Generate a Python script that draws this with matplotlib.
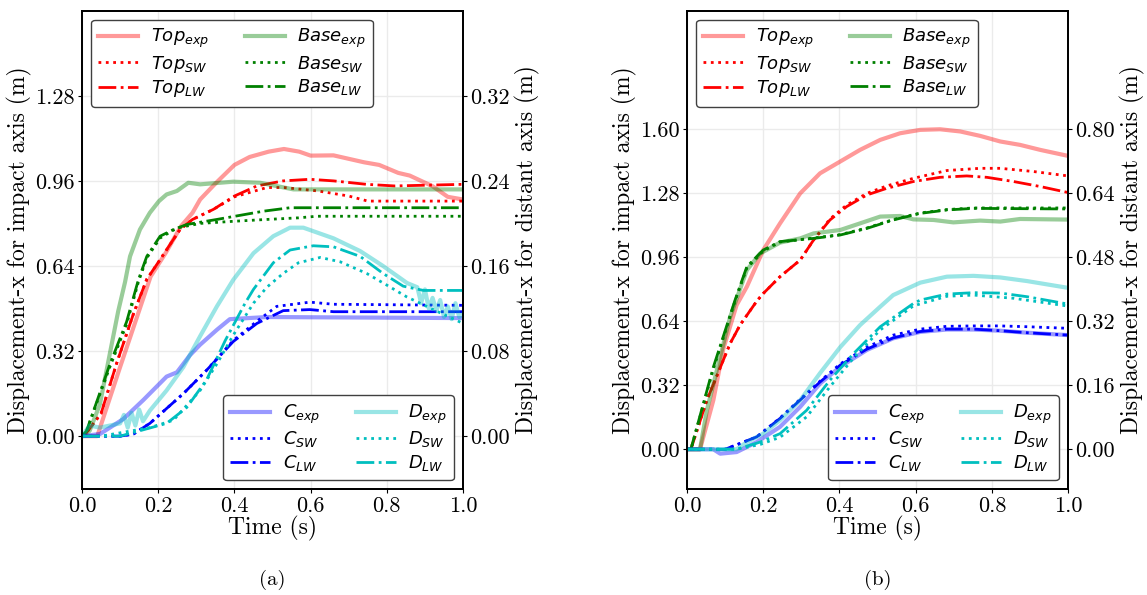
import matplotlib
matplotlib.use('Agg')
import matplotlib.pyplot as plt
from matplotlib.ticker import FormatStrFormatter
import numpy as np

plt.rcParams['font.family'] = 'cmr10'
plt.rcParams['axes.formatter.use_mathtext'] = True
plt.rcParams['mathtext.fontset'] = 'dejavusans'

# ---------------- panel (a) ----------------
# impact axis (left)
a_top_exp_t = [0, 0.04, 0.10, 0.18, 0.22, 0.26, 0.29, 0.31, 0.35, 0.40, 0.44, 0.49, 0.53, 0.57,
               0.60, 0.66, 0.74, 0.78, 0.83, 0.86, 0.92, 0.96, 1.0]
a_top_exp = [0, 0.0, 0.26, 0.60, 0.69, 0.79, 0.84, 0.89, 0.95, 1.02, 1.05, 1.07, 1.08, 1.07,
             1.055, 1.056, 1.03, 1.02, 0.99, 0.98, 0.94, 0.90, 0.89]
a_top_sw_t = [0, 0.01, 0.05, 0.09, 0.135, 0.17, 0.205, 0.257, 0.29, 0.345, 0.40, 0.485, 0.53,
              0.62, 0.70, 0.75, 1.0]
a_top_sw = [0, 0.01, 0.085, 0.27, 0.46, 0.59, 0.664, 0.777, 0.815, 0.853, 0.90, 0.935, 0.935,
            0.922, 0.903, 0.884, 0.884]
a_top_lw_t = [0, 0.01, 0.05, 0.09, 0.135, 0.17, 0.205, 0.257, 0.29, 0.345, 0.40, 0.459, 0.528,
              0.598, 0.66, 0.747, 0.82, 1.0]
a_top_lw = [0, 0.01, 0.085, 0.27, 0.46, 0.59, 0.664, 0.777, 0.815, 0.853, 0.903, 0.941, 0.96,
            0.966, 0.96, 0.947, 0.941, 0.947]
a_base_exp_t = [0, 0.02, 0.047, 0.073, 0.095, 0.113, 0.126, 0.152, 0.178, 0.202, 0.222, 0.249,
                0.279, 0.31, 0.397, 0.467, 0.555, 0.66, 1.0]
a_base_exp = [0, 0.02, 0.12, 0.31, 0.47, 0.58, 0.676, 0.777, 0.84, 0.884, 0.909, 0.922,
              0.953, 0.947, 0.957, 0.953, 0.928, 0.928, 0.928]
a_base_sw_t = [0, 0.012, 0.073, 0.117, 0.148, 0.17, 0.205, 0.24, 0.257, 0.31, 0.397, 0.485,
               0.568, 0.616, 1.0]
a_base_sw = [0, 0.02, 0.26, 0.42, 0.58, 0.67, 0.745, 0.775, 0.785, 0.80, 0.808, 0.815,
             0.821, 0.827, 0.827]
a_base_lw_t = [0, 0.012, 0.073, 0.117, 0.148, 0.17, 0.205, 0.24, 0.275, 0.354, 0.476, 0.546, 1.0]
a_base_lw = [0, 0.02, 0.27, 0.43, 0.588, 0.676, 0.752, 0.777, 0.796, 0.815, 0.846, 0.859, 0.859]
# distant axis (right)
a_c_exp_t = [0, 0.047, 0.108, 0.161, 0.222, 0.249, 0.283, 0.31, 0.354, 0.388, 0.485, 1.0]
a_c_exp = [0, 0.002, 0.016, 0.034, 0.056, 0.060, 0.076, 0.086, 0.10, 0.110, 0.112, 0.111]
a_c_sw_t = [0, 0.10, 0.135, 0.178, 0.266, 0.327, 0.397, 0.459, 0.511, 0.598, 0.66, 1.0]
a_c_sw = [0, 0, 0.002, 0.012, 0.040, 0.062, 0.090, 0.108, 0.122, 0.126, 0.124, 0.123]
a_c_lw_t = [0, 0.10, 0.135, 0.178, 0.266, 0.327, 0.397, 0.459, 0.528, 0.598, 0.66, 1.0]
a_c_lw = [0, 0, 0.002, 0.012, 0.040, 0.062, 0.089, 0.106, 0.118, 0.119, 0.117, 0.117]
a_d_exp_t = [0, 0.02, 0.047, 0.10, 0.11, 0.12, 0.13, 0.14, 0.15, 0.16, 0.178, 0.222, 0.266,
             0.31, 0.354, 0.397, 0.45, 0.502, 0.546, 0.581, 0.66, 0.73, 0.79, 0.853, 0.88,
             0.89, 0.90, 0.91, 0.92, 0.93, 0.94, 0.95, 0.96, 0.97, 0.98, 0.99, 1.0]
a_d_exp = [0, 0.01, 0.008, 0.012, 0.02, 0.008, 0.022, 0.01, 0.025, 0.014, 0.024, 0.043, 0.065,
           0.094, 0.122, 0.147, 0.172, 0.188, 0.196, 0.196, 0.186, 0.174, 0.160, 0.144, 0.14,
           0.125, 0.138, 0.12, 0.13, 0.118, 0.128, 0.112, 0.122, 0.11, 0.125, 0.112, 0.115]
a_d_sw_t = [0, 0.05, 0.178, 0.24, 0.31, 0.354, 0.397, 0.45, 0.485, 0.528, 0.568, 0.625, 0.677,
            0.747, 0.80, 0.852, 0.922, 1.0]
a_d_sw = [0, 0, 0.008, 0.015, 0.043, 0.068, 0.095, 0.125, 0.14, 0.153, 0.163, 0.168, 0.164,
          0.153, 0.142, 0.131, 0.119, 0.106]
a_d_lw_t = [0, 0.10, 0.222, 0.275, 0.327, 0.376, 0.428, 0.45, 0.502, 0.546, 0.607, 0.66, 0.73,
            0.79, 0.843, 0.896, 1.0]
a_d_lw = [0, 0.0, 0.012, 0.027, 0.053, 0.09, 0.125, 0.138, 0.163, 0.175, 0.179, 0.178, 0.169,
          0.153, 0.141, 0.137, 0.137]

# ---------------- panel (b) ----------------
b_top_exp_t = [0, 0.034, 0.069, 0.095, 0.13, 0.157, 0.2, 0.244, 0.297, 0.349, 0.402, 0.454,
               0.507, 0.559, 0.612, 0.664, 0.717, 0.769, 0.822, 0.874, 0.927, 1.0]
b_top_exp = [0, 0, 0.245, 0.50, 0.72, 0.812, 0.995, 1.128, 1.278, 1.378, 1.437, 1.495,
             1.545, 1.578, 1.595, 1.598, 1.587, 1.565, 1.537, 1.52, 1.495, 1.465]
b_top_sw_t = [0, 0.01, 0.052, 0.113, 0.139, 0.183, 0.2, 0.244, 0.297, 0.332, 0.375, 0.419,
              0.472, 0.524, 0.594, 0.682, 0.769, 0.822, 0.909, 1.0]
b_top_sw = [0, 0, 0.245, 0.528, 0.62, 0.74, 0.778, 0.862, 0.945, 1.045, 1.15, 1.22,
            1.278, 1.315, 1.353, 1.392, 1.403, 1.403, 1.387, 1.365]
b_top_lw_t = [0, 0.01, 0.052, 0.113, 0.139, 0.183, 0.2, 0.244, 0.297, 0.332, 0.375, 0.419,
              0.472, 0.524, 0.594, 0.664, 0.734, 0.787, 0.857, 0.927, 1.0]
b_top_lw = [0, 0, 0.245, 0.528, 0.62, 0.74, 0.778, 0.862, 0.945, 1.045, 1.145, 1.212,
            1.27, 1.303, 1.337, 1.358, 1.365, 1.358, 1.337, 1.312, 1.282]
b_base_exp_t = [0, 0.034, 0.052, 0.113, 0.157, 0.192, 0.244, 0.297, 0.332, 0.402, 0.454,
                0.507, 0.559, 0.594, 0.647, 0.699, 0.769, 0.822, 0.874, 1.0]
b_base_exp = [0, 0, 0.195, 0.66, 0.895, 0.978, 1.032, 1.053, 1.078, 1.095, 1.128,
              1.162, 1.165, 1.148, 1.145, 1.133, 1.142, 1.137, 1.15, 1.147]
b_base_sw_t = [0, 0.01, 0.069, 0.126, 0.157, 0.2, 0.244, 0.332, 0.402, 0.472, 0.541, 0.612,
               0.682, 0.752, 1.0]
b_base_sw = [0, 0, 0.40, 0.74, 0.905, 0.99, 1.035, 1.055, 1.072, 1.105, 1.147, 1.18,
             1.197, 1.205, 1.205]
b_base_lw_t = [0, 0.01, 0.069, 0.126, 0.157, 0.2, 0.244, 0.332, 0.402, 0.472, 0.541, 0.612,
               0.682, 0.752, 1.0]
b_base_lw = [0, 0, 0.41, 0.745, 0.912, 0.995, 1.037, 1.053, 1.07, 1.103, 1.145, 1.178,
             1.195, 1.203, 1.2]
b_c_exp_t = [0, 0.069, 0.087, 0.13, 0.183, 0.244, 0.297, 0.349, 0.402, 0.472, 0.541, 0.612,
             0.682, 0.752, 0.822, 0.892, 1.0]
b_c_exp = [0, 0, -0.011, -0.007, 0.018, 0.056, 0.106, 0.164, 0.206, 0.248, 0.277, 0.293,
           0.299, 0.299, 0.296, 0.291, 0.285]
b_c_sw_t = [0, 0.10, 0.183, 0.244, 0.297, 0.349, 0.402, 0.472, 0.541, 0.612, 0.682, 0.752,
            0.822, 0.892, 1.0]
b_c_sw = [0, 0, 0.031, 0.078, 0.125, 0.170, 0.213, 0.255, 0.285, 0.300, 0.307, 0.308,
          0.308, 0.306, 0.302]
b_c_lw_t = [0, 0.10, 0.183, 0.244, 0.297, 0.349, 0.402, 0.472, 0.541, 0.612, 0.682, 0.752,
            0.822, 0.892, 1.0]
b_c_lw = [0, 0, 0.031, 0.077, 0.123, 0.168, 0.21, 0.25, 0.278, 0.294, 0.300, 0.300,
          0.296, 0.291, 0.285]
b_d_exp_t = [0, 0.13, 0.157, 0.2, 0.244, 0.297, 0.349, 0.402, 0.454, 0.507, 0.541, 0.612,
             0.682, 0.752, 0.822, 0.892, 1.0]
b_d_exp = [0, 0, 0.018, 0.039, 0.0725, 0.1225, 0.19, 0.255, 0.31, 0.356, 0.385, 0.416,
           0.431, 0.433, 0.429, 0.42, 0.403]
b_d_sw_t = [0, 0.13, 0.192, 0.244, 0.314, 0.375, 0.437, 0.507, 0.594, 0.682, 0.752, 0.857, 1.0]
b_d_sw = [0, 0, 0.012, 0.03, 0.081, 0.156, 0.228, 0.298, 0.358, 0.382, 0.385, 0.377, 0.3575]
b_d_lw_t = [0, 0.13, 0.192, 0.244, 0.314, 0.375, 0.437, 0.507, 0.594, 0.612, 0.682, 0.752,
            0.822, 0.892, 1.0]
b_d_lw = [0, 0, 0.018, 0.039, 0.0975, 0.1725, 0.239, 0.306, 0.364, 0.3725, 0.3875, 0.391,
          0.39, 0.381, 0.3625]

impact_ticks_a = [0.00, 0.32, 0.64, 0.96, 1.28]
distant_ticks_a = [0.00, 0.08, 0.16, 0.24, 0.32]
impact_ticks_b = [0.00, 0.32, 0.64, 0.96, 1.28, 1.60]
distant_ticks_b = [0.00, 0.16, 0.32, 0.48, 0.64, 0.80]
time_ticks = [0.0, 0.2, 0.4, 0.6, 0.8, 1.0]


def draw_panel(ax, top, base, c, d, ylim, ylim2, ticks, ticks2):
    ax2 = ax.twinx()
    exp_kw = dict(lw=3, alpha=0.4, ls='-')
    sw_kw = dict(lw=2, ls=':')
    lw_kw = dict(lw=2, ls='-.')

    h1 = []
    h1 += ax.plot(top[0], top[1], color='red', label=r'$Top_{exp}$', **exp_kw)
    h1 += ax.plot(top[2], top[3], color='red', label=r'$Top_{SW}$', **sw_kw)
    h1 += ax.plot(top[4], top[5], color='red', label=r'$Top_{LW}$', **lw_kw)
    h1 += ax.plot(base[0], base[1], color='green', label=r'$Base_{exp}$', **exp_kw)
    h1 += ax.plot(base[2], base[3], color='green', label=r'$Base_{SW}$', **sw_kw)
    h1 += ax.plot(base[4], base[5], color='green', label=r'$Base_{LW}$', **lw_kw)

    h2 = []
    h2 += ax2.plot(c[0], c[1], color='blue', label=r'$C_{exp}$', **exp_kw)
    h2 += ax2.plot(c[2], c[3], color='blue', label=r'$C_{SW}$', **sw_kw)
    h2 += ax2.plot(c[4], c[5], color='blue', label=r'$C_{LW}$', **lw_kw)
    h2 += ax2.plot(d[0], d[1], color='c', label=r'$D_{exp}$', **exp_kw)
    h2 += ax2.plot(d[2], d[3], color='c', label=r'$D_{SW}$', **sw_kw)
    h2 += ax2.plot(d[4], d[5], color='c', label=r'$D_{LW}$', **lw_kw)

    ax.set_xlim(0, 1)
    ax.set_ylim(*ylim)
    ax2.set_ylim(*ylim2)
    ax.set_xticks(time_ticks)
    ax.set_yticks(ticks)
    ax2.set_yticks(ticks2)
    ax.xaxis.set_major_formatter(FormatStrFormatter('%.1f'))
    ax.yaxis.set_major_formatter(FormatStrFormatter('%.2f'))
    ax2.yaxis.set_major_formatter(FormatStrFormatter('%.2f'))
    ax.grid(True, color='0.92', lw=1)
    ax.tick_params(labelsize=16, length=3, pad=2)
    ax2.tick_params(labelsize=16, length=3, pad=2)
    for a in (ax, ax2):
        for s in a.spines.values():
            s.set_linewidth(1.3)

    ax.set_xlabel('Time (s)', fontsize=17, labelpad=0)
    ax.set_ylabel('Displacement-x for impact axis (m)', fontsize=17)
    ax2.set_ylabel('Displacement-x for distant axis (m)', fontsize=17)
    ax.yaxis.set_label_coords(-0.131, 0.5)
    ax2.yaxis.set_label_coords(1.137, 0.5)

    leg_kw = dict(ncol=2, fontsize=13, edgecolor='0.25', framealpha=1,
                  handlelength=2.2, columnspacing=2.0, labelspacing=0.2,
                  handletextpad=0.7, borderaxespad=0.5)
    leg1 = ax2.legend(handles=h1, loc='upper left', **leg_kw)
    ax2.add_artist(leg1)
    ax2.legend(handles=h2, loc='lower right', **leg_kw)


fig = plt.figure(figsize=(11.47, 5.95), dpi=100)
ax_a = fig.add_axes([0.0715, 0.1776, 0.3322, 0.8044])
ax_b = fig.add_axes([0.599, 0.1776, 0.3322, 0.8044])

draw_panel(ax_a,
           (a_top_exp_t, a_top_exp, a_top_sw_t, a_top_sw, a_top_lw_t, a_top_lw),
           (a_base_exp_t, a_base_exp, a_base_sw_t, a_base_sw, a_base_lw_t, a_base_lw),
           (a_c_exp_t, a_c_exp, a_c_sw_t, a_c_sw, a_c_lw_t, a_c_lw),
           (a_d_exp_t, a_d_exp, a_d_sw_t, a_d_sw, a_d_lw_t, a_d_lw),
           (-0.2, 1.6), (-0.05, 0.4), impact_ticks_a, distant_ticks_a)
draw_panel(ax_b,
           (b_top_exp_t, b_top_exp, b_top_sw_t, b_top_sw, b_top_lw_t, b_top_lw),
           (b_base_exp_t, b_base_exp, b_base_sw_t, b_base_sw, b_base_lw_t, b_base_lw),
           (b_c_exp_t, b_c_exp, b_c_sw_t, b_c_sw, b_c_lw_t, b_c_lw),
           (b_d_exp_t, b_d_exp, b_d_sw_t, b_d_sw, b_d_lw_t, b_d_lw),
           (-0.2, 2.19), (-0.1, 1.095), impact_ticks_b, distant_ticks_b)

fig.text(0.237, 0.025, '(a)', ha='center', va='center', fontsize=15)
fig.text(0.765, 0.025, '(b)', ha='center', va='center', fontsize=15)

plt.savefig('out.png', dpi=100)
